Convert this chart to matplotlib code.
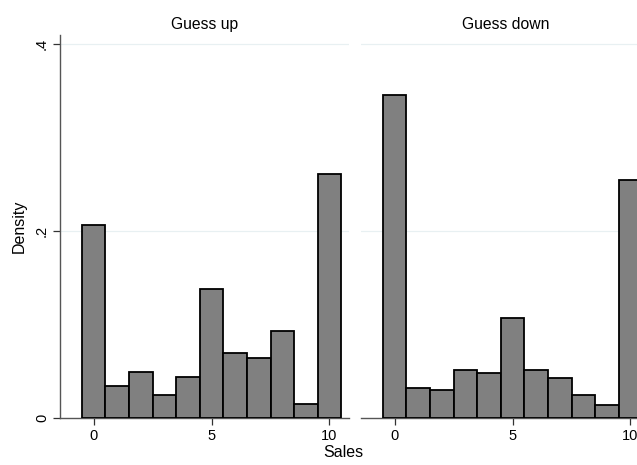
import matplotlib.pyplot as plt

plt.rcParams['font.family'] = ['Liberation Sans', 'DejaVu Sans']

# bin centres (Sales) and density heights
sales = [0, 1, 2, 3, 4, 5, 6, 7, 8, 9, 10]
guess_up = [0.2066, 0.0343, 0.0493, 0.0243, 0.0440, 0.1377, 0.0690, 0.0640, 0.0933, 0.0147, 0.2613]
guess_down = [0.3460, 0.0322, 0.0297, 0.0508, 0.0483, 0.1072, 0.0512, 0.0429, 0.0240, 0.0133, 0.2549]
panels = ['Guess up', 'Guess down']
yticks = [0, 0.2, 0.4]
ytick_labels = ['0', '.2', '.4']
xticks = [0, 5, 10]

fig = plt.figure(figsize=(6.37, 4.65), dpi=100)
ax1 = fig.add_axes([60 / 637, 47.3 / 465, 289 / 637, 382.7 / 465])
ax2 = fig.add_axes([361 / 637, 47.3 / 465, 289 / 637, 382.7 / 465])

for ax, vals, title in zip([ax1, ax2], [guess_up, guess_down], panels):
    ax.bar(sales, vals, width=1, color='#808080', edgecolor='black', linewidth=1.3, zorder=3)
    ax.set_xlim(-1.43, 10.83)
    ax.set_ylim(0, 0.41)
    for y in yticks[1:]:
        ax.axhline(y, color='#e8f0f2', linewidth=0.9, zorder=1)
    ax.set_xticks(xticks)
    ax.set_xticklabels([str(x) for x in xticks], fontsize=10.5)
    ax.tick_params(axis='x', length=5, width=0.9, color='#333333', pad=3)
    for s in ['top', 'right']:
        ax.spines[s].set_visible(False)
    ax.spines['bottom'].set_color('#555555')
    ax.spines['bottom'].set_linewidth(1.0)
    ax.text(0.5, 1.0287, title, transform=ax.transAxes, ha='center', va='center', fontsize=11.3)

ax1.set_yticks(yticks)
ax1.set_yticklabels(ytick_labels, fontsize=10.5, rotation=90, va='center')
ax1.tick_params(axis='y', length=5, width=0.9, color='#333333', pad=3)
ax1.spines['left'].set_color('#555555')
ax1.spines['left'].set_linewidth(1.0)
ax1.set_ylabel('Density', fontsize=11.5, labelpad=6)

ax2.set_yticks([])
ax2.spines['left'].set_visible(False)

fig.text(343 / 637, 1 - 452 / 465, 'Sales', ha='center', va='center', fontsize=11.5)

fig.savefig('out.png', dpi=100)
